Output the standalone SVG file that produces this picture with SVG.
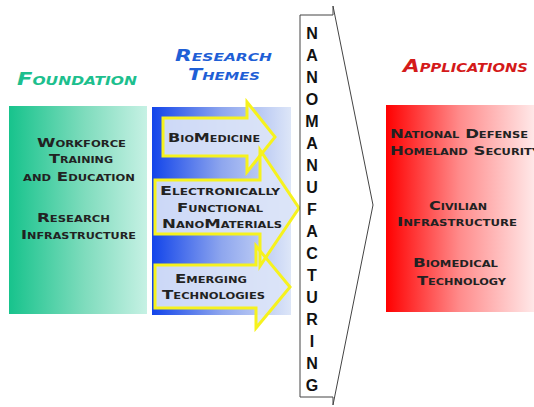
<svg xmlns="http://www.w3.org/2000/svg" xmlns:xlink="http://www.w3.org/1999/xlink" width="534" height="407" viewBox="0 0 534 407">
<defs>
<linearGradient id="gGreen" x1="0" y1="0" x2="1" y2="0">
<stop offset="0" stop-color="#17c38c"/><stop offset="0.55" stop-color="#7fdcbd"/><stop offset="1" stop-color="#c6f1e4"/>
</linearGradient>
<linearGradient id="gBlue" x1="0" y1="0" x2="1" y2="0">
<stop offset="0" stop-color="#1244ea"/><stop offset="0.5" stop-color="#8ea6ee"/><stop offset="1" stop-color="#dde6f8"/>
</linearGradient>
<linearGradient id="gRed" x1="0" y1="0" x2="1" y2="0">
<stop offset="0" stop-color="#ff0000"/><stop offset="0.5" stop-color="#ff8c8c"/><stop offset="1" stop-color="#ffe8e8"/>
</linearGradient>
<path id="a1" d="M163,118 H247 V102 L275,137 L247,172 V156 H163 Z"/>
<path id="a2" d="M155,180 H260 V150 L299,208 L260,266 V234 H155 Z"/>
<path id="a3" d="M155,265 H256 V246 L290,287 L256,328 V308 H155 Z"/>
</defs>
<style>
.sc{font-family:"DejaVu Sans","Liberation Sans",sans-serif;font-weight:bold;font-variant:small-caps;}
.body{font-size:13px;fill:#222;text-anchor:start;}
.title{font-size:17.5px;font-style:italic;}
.title2{font-size:15.5px;font-style:italic;}
.afill{fill:#dbe4f7;fill-opacity:0.92;}
.aline{fill:none;stroke:#f6f21e;stroke-width:3;stroke-linejoin:miter;}
.nano{font-family:"Liberation Sans",Arial,sans-serif;font-weight:bold;font-size:16px;fill:#111;text-anchor:middle;}
</style>
<rect width="534" height="407" fill="#ffffff"/>

<g id="foundation">
<text class="sc title" x="17" y="85" textLength="120" lengthAdjust="spacingAndGlyphs" fill="#1dbf8e">Foundation</text>
<rect x="9" y="106" width="138" height="208" fill="url(#gGreen)"/>
<text class="sc body" x="37" y="147" textLength="89" lengthAdjust="spacingAndGlyphs">Workforce</text>
<text class="sc body" x="49" y="163" textLength="64" lengthAdjust="spacingAndGlyphs">Training</text>
<text class="sc body" x="23" y="181" textLength="112" lengthAdjust="spacingAndGlyphs">and Education</text>
<text class="sc body" x="37" y="222" textLength="73" lengthAdjust="spacingAndGlyphs">Research</text>
<text class="sc body" x="21" y="239" textLength="115" lengthAdjust="spacingAndGlyphs">Infrastructure</text>
</g>

<g id="research-themes">
<text class="sc title2" x="175" y="61" textLength="97" lengthAdjust="spacingAndGlyphs" fill="#1f5fd6">Research</text>
<text class="sc title2" x="188" y="80" textLength="72" lengthAdjust="spacingAndGlyphs" fill="#1f5fd6">Themes</text>
<rect x="152" y="107" width="139" height="208" fill="url(#gBlue)"/>
</g>

<g id="theme-biomedicine">
<use xlink:href="#a1" class="afill"/>
<text class="sc body" x="168" y="142" textLength="92" lengthAdjust="spacingAndGlyphs">BioMedicine</text>
</g>
<g id="theme-nanomaterials">
<use xlink:href="#a2" class="afill"/>
<text class="sc body" x="160" y="195" textLength="120" lengthAdjust="spacingAndGlyphs">Electronically</text>
<text class="sc body" x="177" y="212" textLength="86" lengthAdjust="spacingAndGlyphs">Functional</text>
<text class="sc body" x="162" y="228" textLength="120" lengthAdjust="spacingAndGlyphs">NanoMaterials</text>
</g>
<g id="theme-emerging">
<use xlink:href="#a3" class="afill"/>
<text class="sc body" x="175" y="283" textLength="72" lengthAdjust="spacingAndGlyphs">Emerging</text>
<text class="sc body" x="162" y="299" textLength="103" lengthAdjust="spacingAndGlyphs">Technologies</text>
</g>

<g id="connectors">
<use xlink:href="#a1" class="aline"/>
<use xlink:href="#a2" class="aline"/>
<use xlink:href="#a3" class="aline"/>
</g>

<g id="nanomanufacturing">
<path d="M300,15 H333 V6 L373,205 L333,405 V397 H300 Z" fill="#ffffff" stroke="#444" stroke-width="1"/>
<text class="nano" x="312" y="39">N</text>
<text class="nano" x="312" y="61">A</text>
<text class="nano" x="312" y="83">N</text>
<text class="nano" x="312" y="105">O</text>
<text class="nano" x="312" y="127">M</text>
<text class="nano" x="312" y="149">A</text>
<text class="nano" x="312" y="171">N</text>
<text class="nano" x="312" y="193">U</text>
<text class="nano" x="312" y="215">F</text>
<text class="nano" x="312" y="237">A</text>
<text class="nano" x="312" y="259">C</text>
<text class="nano" x="312" y="281">T</text>
<text class="nano" x="312" y="303">U</text>
<text class="nano" x="312" y="325">R</text>
<text class="nano" x="312" y="347">I</text>
<text class="nano" x="312" y="369">N</text>
<text class="nano" x="312" y="391">G</text>
</g>

<g id="applications">
<text class="sc title" x="403" y="72" textLength="125" lengthAdjust="spacingAndGlyphs" fill="#d41a1a">Applications</text>
<rect x="386" y="105" width="148" height="207" fill="url(#gRed)"/>
<text class="sc body" x="390" y="138" textLength="138" lengthAdjust="spacingAndGlyphs">National Defense</text>
<text class="sc body" x="390" y="155" textLength="150" lengthAdjust="spacingAndGlyphs">Homeland Security</text>
<text class="sc body" x="429" y="210" textLength="58" lengthAdjust="spacingAndGlyphs">Civilian</text>
<text class="sc body" x="397" y="226" textLength="120" lengthAdjust="spacingAndGlyphs">Infrastructure</text>
<text class="sc body" x="413" y="267" textLength="85" lengthAdjust="spacingAndGlyphs">Biomedical</text>
<text class="sc body" x="417" y="285" textLength="89" lengthAdjust="spacingAndGlyphs">Technology</text>
</g>
</svg>
